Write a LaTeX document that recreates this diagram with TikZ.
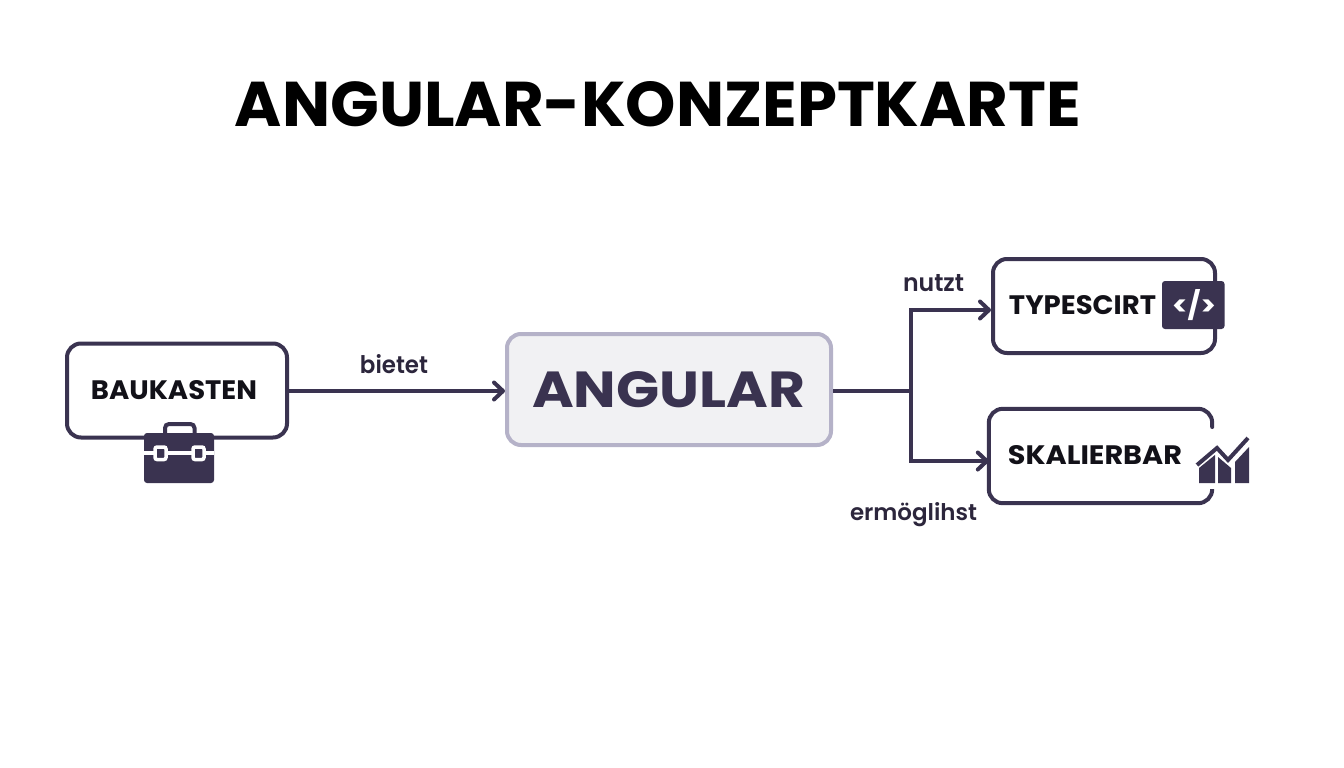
\documentclass[tikz,border=0pt]{standalone}
\usepackage{fontspec}
\usepackage{graphicx}
\usetikzlibrary{arrows.meta}
\setmainfont{Poppins}
\newfontfamily\medfont{Poppins SemiBold}
\newfontfamily\boldfont{Poppins}[UprightFont={* Bold}]
\definecolor{ink}{HTML}{3A3350}
\definecolor{txt}{HTML}{121118}
\definecolor{angfill}{HTML}{F1F1F3}
\definecolor{angline}{HTML}{B5B2C8}
\newcommand{\fitbox}[3]{\resizebox{#1pt}{#2pt}{#3}}
\tikzset{
 x=1pt,y=-1pt,
 card/.style={draw=ink,line width=4pt,rounded corners=14pt,fill=white,minimum height=94pt,inner sep=0pt},
 lab/.style={inner sep=0pt,text=ink!75!black,font=\medfont},
 boxtxt/.style={inner sep=0pt,text=txt,font=\boldfont},
 wire/.style={draw=ink,line width=4pt},
 arrowwire/.style={wire,-{Straight Barb[length=9pt,width=17pt,line width=4pt,round]}},
 glyph/.style={fill=ink,draw=none,rounded corners=3pt},
}
\begin{document}
\begin{tikzpicture}
\useasboundingbox[fill=white] (0,0) rectangle (1344,768);
\node[boxtxt,text=black] (title) at (658,104.5) {\fitbox{846}{45}{ANGULAR-KONZEPTKARTE}};

\node[card,minimum width=220pt] (bk) at (177,390.5) {};
\node[boxtxt] (bktxt) at (174,390.5) {\fitbox{166}{19}{BAUKASTEN}};
\node[draw=angline,fill=angfill,line width=4pt,rounded corners=14pt,minimum width=324pt,minimum height=111pt,inner sep=0pt] (ang) at (669,389.5) {};
\node[boxtxt,text=ink] (angtxt) at (668.5,390) {\fitbox{273}{36}{ANGULAR}};
\node[card,minimum width=222pt] (ty) at (1104,306) {};
\node[boxtxt] (tytxt) at (1082.5,305) {\fitbox{147}{19}{TYPESCIRT}};
\node[minimum width=223pt,minimum height=94pt,inner sep=0pt] (sk) at (1100.5,456) {};
\node[boxtxt] (sktxt) at (1095,455) {\fitbox{174}{19}{SKALIERBAR}};

% open frame of SKALIERBAR
\draw[wire,line cap=round,rounded corners=14pt] (sk.east |- 0,427) -- (sk.north east) -- (sk.north west) -- (sk.south west) -- (sk.south east) -- (sk.east |- 0,490);

\node[lab] (bietet) at (394,364) {\fitbox{68}{19}{bietet}};
\node[lab] (nutzt) at (933.5,283) {\fitbox{61}{17}{nutzt}};
\node[lab,anchor=base] (ermo) at (913.5,520) {\resizebox{127pt}{!}{ermöglihst}};

% connectors
\coordinate (split) at (911,391);
\coordinate (upper) at (911,310);
\coordinate (lower) at (911,461);
\draw[arrowwire,line width=3.2pt] (bk.east |- split) -- (ang.west |- split);
\draw[wire] (ang.east |- split) -- (split);
\draw[arrowwire,line join=miter] (split) -- (upper) -- (upper -| ty.west);
\draw[arrowwire,line join=miter] (split) -- (lower) -- (lower -| sk.west);

% briefcase
\draw[ink,line width=4pt,rounded corners=4pt] (165,434) -- (165,424) -- (194.5,424) -- (194.5,434);
\fill[glyph] (144,433) rectangle (214,483);
\draw[white,line width=3.5pt] (144,453) -- (154,453);
\draw[white,line width=3.5pt] (166,453) -- (192,453);
\draw[white,line width=3.5pt] (204,453) -- (214,453);
\draw[white,line width=3.5pt,rounded corners=2pt] (155,447) rectangle (166,459.5);
\draw[white,line width=3.5pt,rounded corners=2pt] (193,447) rectangle (204,459.5);

% code icon
\fill[glyph] (1162,281) rectangle (1224.5,329);
\node[inner sep=0pt,text=white,font=\boldfont] (code) at (1194,305) {\fitbox{44}{26}{</>}};

% chart icon
\fill[ink] (1199,483) -- (1199,468) -- (1215,455) -- (1215,483) -- cycle;
\fill[ink] (1218,483) -- (1218,457) -- (1231,468) -- (1231,483) -- cycle;
\fill[ink] (1235,483) -- (1235,462) -- (1249,447) -- (1249,483) -- cycle;
\draw[ink,line width=4pt] (1197,465) -- (1217,448) -- (1228,460) -- (1248,438);
\end{tikzpicture}
\end{document}
